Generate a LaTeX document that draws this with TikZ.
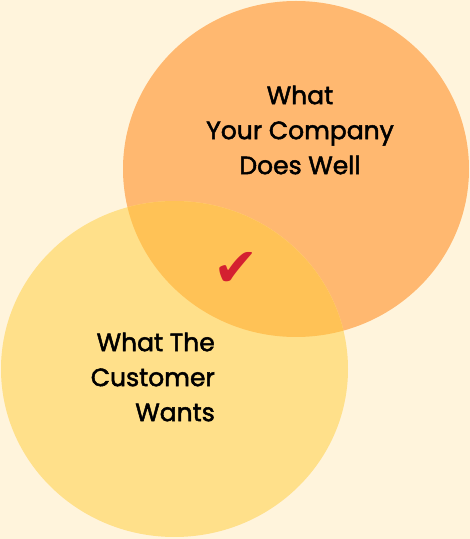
\documentclass[tikz,border=0pt]{standalone}
\usepackage{fontspec}
\setmainfont{Poppins}
\newfontfamily\labelfont{Poppins}[FakeBold=2]
\newfontfamily\symfont{DejaVu Sans}
\usetikzlibrary{positioning}
\definecolor{paper}{HTML}{FFF4DC}
\definecolor{orangefill}{HTML}{FFB870}
\definecolor{yellowfill}{HTML}{FFE08A}
\definecolor{bothfill}{HTML}{FFC256}
\definecolor{checkred}{HTML}{D42030}
\begin{document}
\begin{tikzpicture}[x=1pt,y=1pt,
    label/.style={font=\labelfont\fontsize{25}{35}\selectfont, inner sep=0pt}]
        \fill[paper] (0,0) rectangle (470,539);
        \useasboundingbox (0,0) rectangle (470,539);

        \coordinate (company) at (296,370);
        \coordinate (customer) at (174.5,170);

        \fill[orangefill] (company) ellipse [x radius=173, y radius=168];
        \fill[yellowfill] (customer) ellipse [x radius=173.5, y radius=168];
        \begin{scope}
            \clip (company) ellipse [x radius=173, y radius=168];
            \fill[bothfill] (customer) ellipse [x radius=173.5, y radius=168];
        \end{scope}

        \node (well) [label, align=center] at (300,409) {What\\Your Company\\Does Well};
        \node (wants) [label, align=right, anchor=east] at (215,162) {What The\\Customer\\Wants};
        \node (check) [text=checkred, inner sep=0pt, font=\symfont\fontsize{54}{54}\selectfont] at (236,270) {✔};
    \end{tikzpicture}
\end{document}
